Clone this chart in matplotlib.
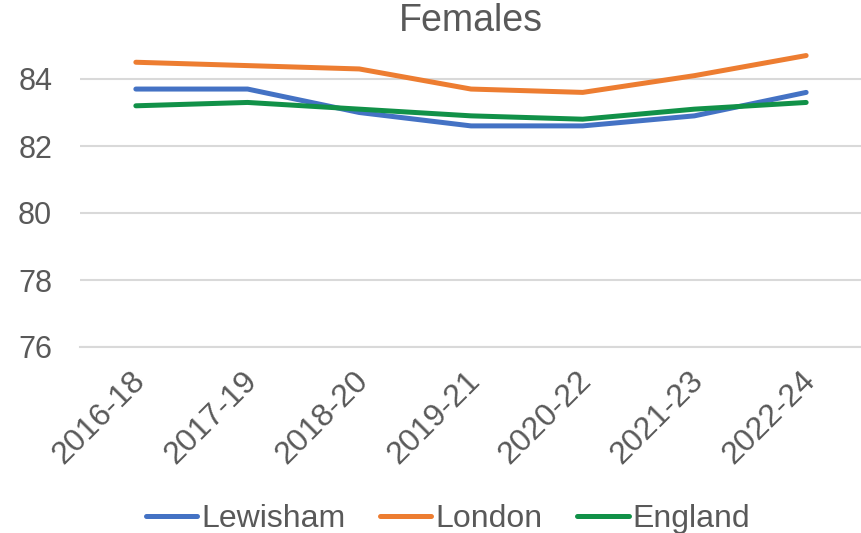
import matplotlib.pyplot as plt
import matplotlib.transforms as mtransforms

plt.rcParams['font.family'] = ['Liberation Sans', 'DejaVu Sans']

# Espérance de vie des femmes, moyennes sur 3 ans
periodes = ["2016-18", "2017-19", "2018-20", "2019-21", "2020-22", "2021-23", "2022-24"]
lewisham = [83.7, 83.7, 83.0, 82.6, 82.6, 82.9, 83.6]
london = [84.5, 84.4, 84.3, 83.7, 83.6, 84.1, 84.7]
england = [83.2, 83.3, 83.1, 82.9, 82.8, 83.1, 83.3]

gris = "#595959"

fig = plt.figure(figsize=(8.62, 5.33), dpi=100)
ax = fig.add_axes([80/862, 1 - 347/533, 1 - 80/862, (347 - 45.5)/533])

x = range(len(periodes))
ax.plot(x, lewisham, color="#4472C4", lw=3.6, label="Lewisham", solid_capstyle="round")
ax.plot(x, london, color="#ED7D31", lw=3.6, label="London", solid_capstyle="round")
ax.plot(x, england, color="#119148", lw=3.6, label="England", solid_capstyle="round")

ax.set_xlim(-0.5, len(periodes) - 0.5)
ax.set_ylim(76, 85)
ax.set_yticks([76, 78, 80, 82, 84])
ax.grid(axis="y", color="#D9D9D9", lw=1.5)
ax.set_axisbelow(True)
for s in ["top", "right", "left"]:
    ax.spines[s].set_visible(False)
ax.spines["bottom"].set_color("#D9D9D9")
ax.spines["bottom"].set_linewidth(1.5)
ax.tick_params(length=0, labelsize=22, labelcolor=gris)
ax.tick_params(axis="y", pad=20)

ax.set_xticks(list(x))
ax.set_xticklabels(periodes, rotation=45, ha="right", rotation_mode="anchor", fontsize=23)
decalage = mtransforms.ScaledTranslation(-6/100, -14/100, fig.dpi_scale_trans)
for lab in ax.get_xticklabels():
    lab.set_transform(lab.get_transform() + decalage)

fig.text(471/862, 1 - 21/533, "Females", fontsize=27, color=gris, ha="center", va="center")

fig.legend(loc="center", bbox_to_anchor=(448/862, 1 - 519/533), ncol=3, frameon=False,
           fontsize=23, labelcolor=gris, handlelength=1.6, handletextpad=0.12,
           columnspacing=1.1)

fig.savefig("out.png", dpi=100)
